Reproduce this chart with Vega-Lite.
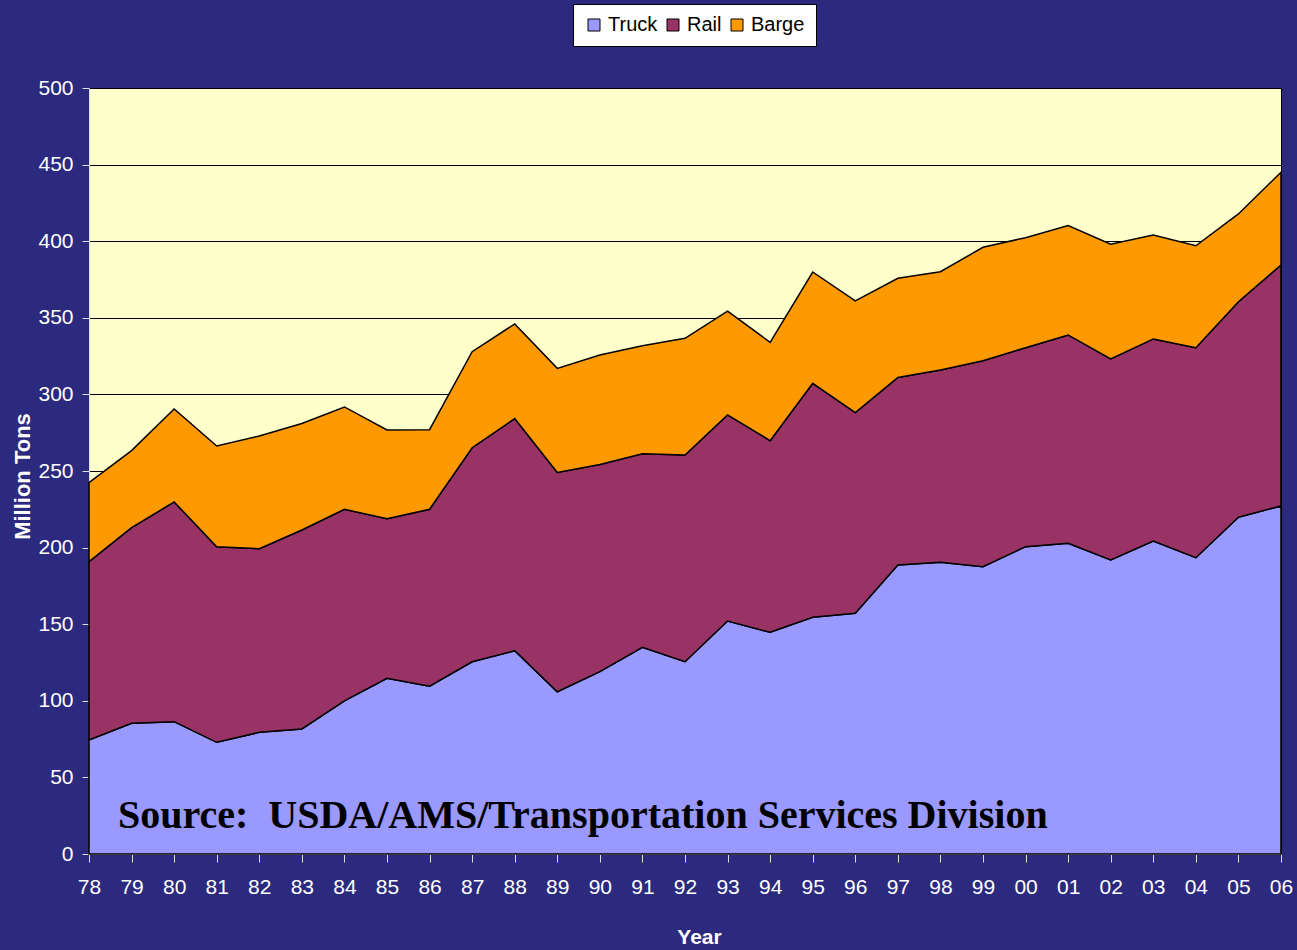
{
  "$schema": "https://vega.github.io/schema/vega-lite/v6.json",
  "width": 1192,
  "height": 766,
  "autosize": {"type": "none"},
  "padding": {"left": 89, "top": 88, "right": 16, "bottom": 96},
  "background": "#2B2A7E",
  "config": {
    "view": {"fill": "#FFFFCC", "stroke": "#000000", "strokeWidth": 1},
    "font": "Liberation Sans"
  },
  "layer": [
    {
      "data": {
        "values": [
          {"year": "78", "Truck": 74.4, "Rail": 116.4, "Barge": 51.6},
          {"year": "79", "Truck": 85.3, "Rail": 127.7, "Barge": 50.3},
          {"year": "80", "Truck": 86.4, "Rail": 143.4, "Barge": 60.7},
          {"year": "81", "Truck": 72.9, "Rail": 127.7, "Barge": 65.7},
          {"year": "82", "Truck": 79.4, "Rail": 119.9, "Barge": 73.5},
          {"year": "83", "Truck": 81.6, "Rail": 129.9, "Barge": 69.5},
          {"year": "84", "Truck": 99.9, "Rail": 125.1, "Barge": 66.8},
          {"year": "85", "Truck": 114.7, "Rail": 104.2, "Barge": 57.9},
          {"year": "86", "Truck": 109.5, "Rail": 115.5, "Barge": 52.0},
          {"year": "87", "Truck": 125.5, "Rail": 139.7, "Barge": 62.7},
          {"year": "88", "Truck": 132.7, "Rail": 151.5, "Barge": 61.8},
          {"year": "89", "Truck": 105.9, "Rail": 143.2, "Barge": 67.9},
          {"year": "90", "Truck": 119.0, "Rail": 135.3, "Barge": 71.4},
          {"year": "91", "Truck": 134.9, "Rail": 126.4, "Barge": 70.5},
          {"year": "92", "Truck": 125.5, "Rail": 134.9, "Barge": 76.2},
          {"year": "93", "Truck": 152.1, "Rail": 134.5, "Barge": 67.8},
          {"year": "94", "Truck": 144.7, "Rail": 125.1, "Barge": 64.2},
          {"year": "95", "Truck": 154.5, "Rail": 152.7, "Barge": 72.7},
          {"year": "96", "Truck": 157.1, "Rail": 131.0, "Barge": 72.9},
          {"year": "97", "Truck": 188.6, "Rail": 122.5, "Barge": 64.7},
          {"year": "98", "Truck": 190.4, "Rail": 125.5, "Barge": 64.2},
          {"year": "99", "Truck": 187.5, "Rail": 134.5, "Barge": 74.0},
          {"year": "00", "Truck": 200.6, "Rail": 129.9, "Barge": 71.8},
          {"year": "01", "Truck": 202.8, "Rail": 136.0, "Barge": 71.4},
          {"year": "02", "Truck": 191.9, "Rail": 131.2, "Barge": 74.9},
          {"year": "03", "Truck": 204.3, "Rail": 131.9, "Barge": 67.8},
          {"year": "04", "Truck": 193.4, "Rail": 137.1, "Barge": 66.5},
          {"year": "05", "Truck": 219.8, "Rail": 140.7, "Barge": 57.3},
          {"year": "06", "Truck": 227.2, "Rail": 157.3, "Barge": 60.5}
        ]
      },
      "transform": [{"fold": ["Truck", "Rail", "Barge"], "as": ["mode", "tons"]}],
      "mark": {"type": "area", "stroke": "#000000", "strokeWidth": 1.5, "opacity": 1, "fillOpacity": 1},
      "encoding": {
        "x": {
          "field": "year", "type": "ordinal", "sort": null,
          "scale": {"type": "point", "padding": 0},
          "axis": {
            "title": "Year", "titleColor": "#FFFFFF", "titleFontSize": 21, "titleFontWeight": "bold",
            "titleBaseline": "middle", "titleAlign": "center", "titleY": 83, "titleX": 610,
            "labelColor": "#FFFFFF", "labelFontSize": 21, "labelAngle": 0, "labelPadding": 14,
            "tickColor": "#DDDDDD", "tickSize": 8, "domainColor": "#DDDDDD", "grid": false
          }
        },
        "y": {
          "field": "tons", "type": "quantitative", "stack": "zero",
          "scale": {"domain": [0, 500], "nice": false},
          "axis": {
            "values": [0, 50, 100, 150, 200, 250, 300, 350, 400, 450, 500],
            "title": "Million Tons", "titleColor": "#FFFFFF", "titleFontSize": 22, "titleFontWeight": "bold",
            "titleX": -67, "titleY": 388, "titleAngle": -90, "titleAlign": "center", "titleBaseline": "middle",
            "labelColor": "#FFFFFF", "labelFontSize": 21, "labelPadding": 9,
            "tickColor": "#DDDDDD", "tickSize": 7, "domainColor": "#DDDDDD",
            "grid": true, "gridColor": "#000000", "gridOpacity": 1, "gridWidth": 1
          }
        },
        "color": {
          "field": "mode", "type": "nominal", "sort": ["Truck", "Rail", "Barge"],
          "scale": {"domain": ["Truck", "Rail", "Barge"], "range": ["#9999FF", "#993366", "#FF9900"]},
          "legend": {
            "title": null, "orient": "none", "legendX": 484, "legendY": -84, "direction": "horizontal",
            "fillColor": "#FFFFFF", "strokeColor": "#000000", "padding": 11,
            "labelFontSize": 20, "labelColor": "#000000", "symbolType": "square", "symbolSize": 144,
            "symbolStrokeColor": "#000000", "symbolStrokeWidth": 1, "symbolOpacity": 1, "columnPadding": 5
          }
        }
      }
    },
    {
      "data": {"values": [{"year": "78", "y": 17, "t": "Source:\u00a0 USDA/AMS/Transportation Services Division"}]},
      "mark": {"type": "text", "align": "left", "baseline": "alphabetic", "dx": 29, "font": "Liberation Serif", "fontWeight": "bold", "fontSize": 40, "color": "#000000"},
      "encoding": {
        "x": {"field": "year", "type": "ordinal", "sort": null},
        "y": {"field": "y", "type": "quantitative"},
        "text": {"field": "t"}
      }
    }
  ]
}
